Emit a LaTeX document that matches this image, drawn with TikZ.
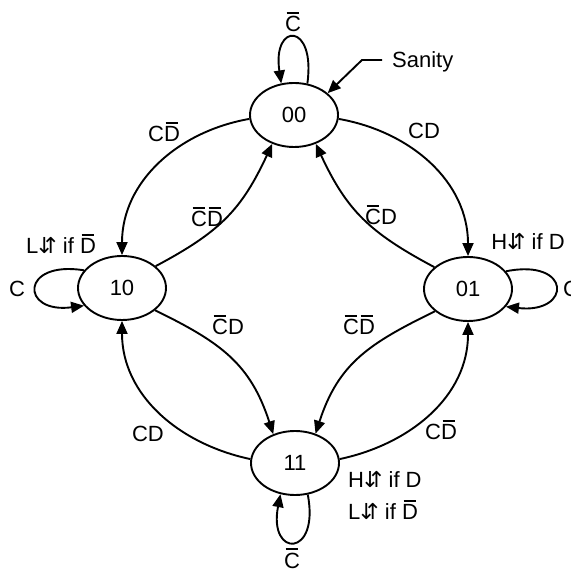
\documentclass[tikz,border=0pt]{standalone}
\usepackage{fontspec}
\setmainfont{Liberation Sans}
\newfontfamily\dejavu{DejaVu Sans}
\usetikzlibrary{arrows.meta,shapes.geometric}
\newcommand\nb[1]{{\setbox0\hbox{#1}\vbox{\offinterlineskip\hbox to\wd0{\hskip1.6pt\leaders\hrule height 1.8pt\hfil\hskip1.6pt}\kern 2.6pt\box0}}}
\newcommand\updn{{\dejavu ⇵}}
\begin{document}
\begin{tikzpicture}[x=1pt,y=1pt,
  state/.style={ellipse,draw,line width=1.9pt,minimum width=88pt,minimum height=64pt,inner sep=0pt,font=\fontsize{22}{26}\selectfont},
  lbl/.style={font=\fontsize{22}{26}\selectfont,inner sep=0pt,anchor=base},
  edge/.style={line width=1.9pt,-{Triangle[length=13pt,width=11pt]}},
]
\useasboundingbox (0,0) rectangle (570,572);
\node[state] (n00) at (294,457) {00};
\node[state] (n10) at (122,284) {10};
\node[state] (n01) at (468,283) {01};
\node[state] (n11) at (295,109) {11};

% outer / inner transitions
\draw[edge] (n00.185) to[out=190,in=90] (n10.north);
\draw[edge] (n10.33) to[out=28,in=245,looseness=1.1] (n00.233);
\draw[edge] (n00.-5) to[out=-10,in=90] (n01.north);
\draw[edge] (n01.147) to[out=152,in=295,looseness=1.1] (n00.307);
\draw[edge] (n10.-34) to[out=-26,in=108,looseness=1.1] (n11.127);
\draw[edge] (n11.175) to[out=168,in=270] (n10.south);
\draw[edge] (n01.214) to[out=206,in=72,looseness=1.1] (n11.55);
\draw[edge] (n11.5) to[out=12,in=270] (n01.south);

% self loops
\draw[edge] (n00.67) .. controls (316,550) and (272,550) .. (n00.112);
\draw[edge] (n10.155) .. controls (20,312) and (20,258) .. (n10.205);
\draw[edge] (n01.25) .. controls (572,314) and (572,258) .. (n01.335);
\draw[edge] (n11.-68) .. controls (320,14) and (268,14) .. (n11.245);

% sanity pointer
\coordinate (s0) at (382,512);
\coordinate (s1) at (362,512);
\draw[edge] (s0) -- (s1) -- (n00.33);
\node[lbl,anchor=base west] (san) at (392,504) {Sanity};

% edge labels
\node[lbl] (l1) at (164,430) {C\nb{D}};
\node[lbl] (l2) at (207,345) {\nb{C}\nb{D}};
\node[lbl] (l3) at (424,433) {CD};
\node[lbl] (l4) at (381,347) {\nb{C}D};
\node[lbl] (l5) at (228,237) {\nb{C}D};
\node[lbl] (l6) at (148,130) {CD};
\node[lbl] (l7) at (359,237) {\nb{C}\nb{D}};
\node[lbl] (l8) at (441,132) {C\nb{D}};

% loop labels
\node[lbl] (c1) at (293,540) {\nb{C}};
\node[lbl] (c2) at (17,275) {C};
\node[lbl] (c3) at (571,275) {C};
\node[lbl] (c4) at (292,4) {\nb{C}};

% output labels
\node[lbl] (o1) at (61,318) {L\updn{} if \nb{D}};
\node[lbl] (o2) at (528,322) {H\updn{} if D};
\node[lbl,anchor=base west] (o3) at (348,84) {H\updn{} if D};
\node[lbl,anchor=base west] (o4) at (348,52) {L\updn{} if \nb{D}};
\end{tikzpicture}
\end{document}
